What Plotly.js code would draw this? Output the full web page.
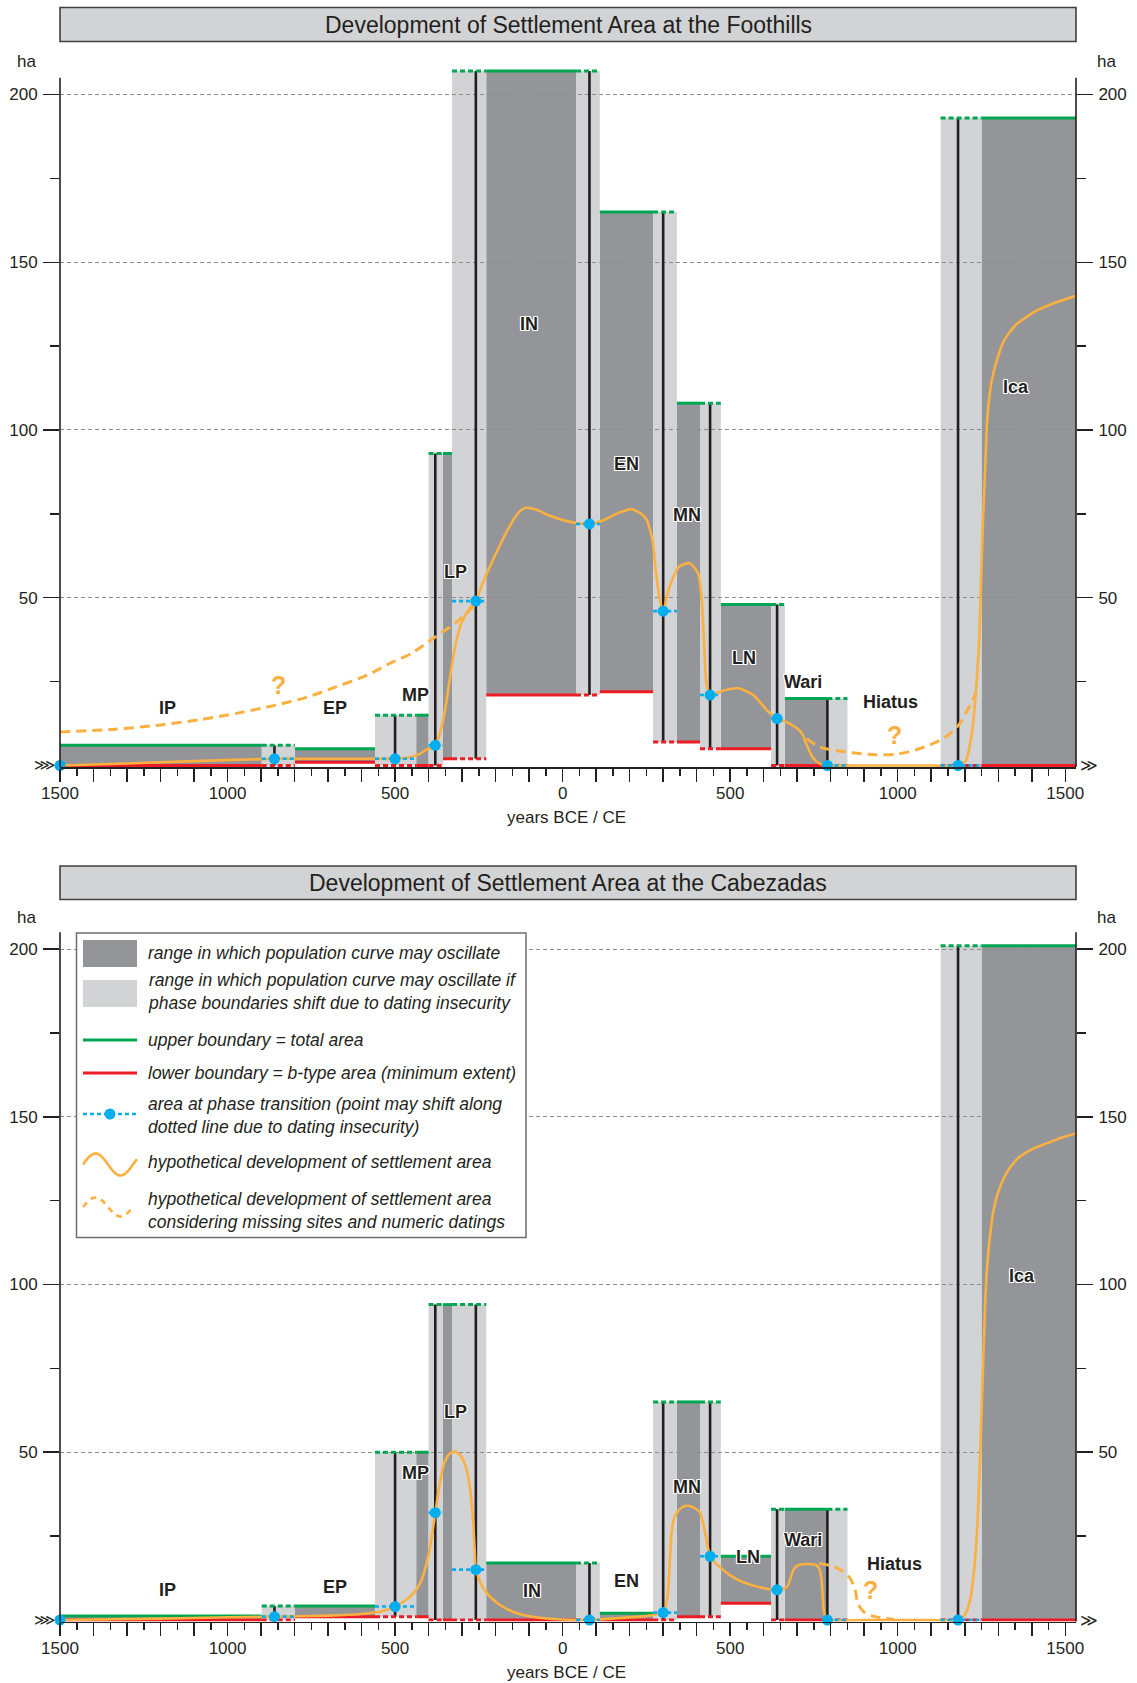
<!DOCTYPE html>
<html><head><meta charset="utf-8">
<script src="https://cdn.plot.ly/plotly-3.0.1.min.js"></script>
<style>html,body{margin:0;padding:0;background:#fff}#chart{width:1137px;height:1683px}</style>
</head><body><div id="chart"></div>
<script>
// ---------- shared chronology (years; BCE negative, CE positive) ----------
const phaseNames = ['IP','EP','MP','LP','IN','EN','MN','LN','Wari','Hiatus','Ica'];
const phaseStart = [-1500, -799, -437, -357, -228, 111, 341, 472, 663, 850, 1250];
const phaseEnd   = [-898, -560, -400, -330, 40, 270, 410, 622, 790, 1128, 1532];
const transLine  = [-860, -500, -380, -259, 80, 300, 440, 640, 790, 1180];

// ---------- Foothills (ha) ----------
const footUpper = [6, 5, 15, 93, 207, 165, 108, 48, 20, null, 193];
const footLower = [0, 1, 0, 2, 21, 22, 7, 5, 0, null, 0];
const footTrans = [2, 2, 6, 49, 72, 46, 21, 14, 0, 0];
const footStart = 0;
const footCurveX = [-1500,-1300,-1100,-900,-860,-700,-560,-500,-460,-430,-405,-380,-365,-350,-335,-320,-300,-280,-259,-240,-200,-160,-130,-110,-80,-40,0,40,80,120,160,205,235,251,268,279,290,300,319,348,379,404,415,423,429,440,478,523,569,614,640,671,700,715,728,748,770,790,900,1000,1100,1180,1204,1221,1233,1244,1253,1261,1267,1279,1296,1318,1352,1409,1466,1532];
const footCurveY = [0,0.6,1.3,1.9,2,2,2,2,2.4,3.3,4.8,6,10,17,27,36,43,46.5,49,54,63,71,75.5,76.8,76.3,74.5,73.2,72.3,72,73,75,76.4,75,73.2,67.2,57.3,49.3,46,53.3,59.3,60.3,57.3,49.3,34.4,24.6,21,22.3,23,21,16,14,12.8,11,9.5,6.2,2.2,0.4,0,0,0,0,0,1.6,9.6,21.5,39.4,69.2,89,103,113.9,120.9,126.8,131.3,135.3,137.8,140];
const footDashX = [-1500,-1336,-1199,-1085,-970,-856,-765,-674,-582,-514,-450,-386,-320,-265, null, 728,768,841,932,1000,1068,1137,1182,1233];
const footDashY = [10,10.8,12.1,13.6,15.6,18,20.3,23.5,27,30.5,33.5,37.9,42.5,47.5, null, 8,5.5,4.1,3.2,3.4,5.1,8.1,12.1,21.5];
const footLabelX = [-1180,-680,-440,-320,-101,190,370,540,718,979,1353];
const footLabelY = [17,17,21,57.8,131.5,89.9,74.7,32,25,19,112.7];
const footQX = [-849, 991];
const footQY = [24, 9.1];

// ---------- Cabezadas (ha) ----------
const cabUpper = [1.2, 4.2, 50, 94, 17, 2, 65, 19, 33, null, 201];
const cabLower = [0, 1, 1, 0, 0, 0, 1, 5, 0, null, 0];
const cabTrans = [1, 4, 32, 15, 0, 2.2, 19, 9, 0, 0];
const cabStart = 0;
const cabCurveX = [-1500,-1200,-1000,-860,-700,-600,-540,-500,-470,-445,-425,-411,-395,-380,-366,-354,-337,-320,-302,-287,-276,-268,-263,-259,-250,-240,-220,-194,-165,-137,-100,-57,0,80,160,230,270,300,308,314,319,325,333,341,360,379,395,410,420,428,440,458,478,505,535,591,640,660,672,681,690,705,728,755,766,772,776,779,785,790,900,1000,1100,1180,1200,1216,1230,1239,1248,1256,1262,1268,1276,1284,1298,1318,1340,1363,1400,1443,1490,1532];
const cabCurveY = [0,0.4,0.8,1,1.3,1.8,2.6,4,5.8,8,11,15,22,32,41,46.7,49.6,50.2,48.6,45,39,30.8,22,15,12.3,10,7.3,5,3.2,2,1.1,0.5,0.15,0,0.5,1,1.5,2.2,4,8,16,26,30.5,32,33.8,34,33.3,32,28.5,24.5,19,16.8,15,13,11.4,9.7,9,9.3,10.2,12.8,15.2,16.4,16.7,16.4,15.3,12.5,7.5,3,0.6,0,0,0,0,0,1.5,6,17,31,55,80,97,107,115,121,127,132,135.5,138,140.3,142,143.8,145];
const cabDashX = [765,800,830,858,873,881,898,932,989];
const cabDashY = [16.8,16.2,14.9,12.4,8.9,5,2.5,1,0.2];
const cabLabelX = [-1180,-680,-440,-320,-92,190,370,552,718,989,1370];
const cabLabelY = [8.9,9.9,43.9,61.9,8.7,11.6,39.7,18.9,23.8,16.7,102.5];
const cabQX = [920];
const cabQY = [8.9];

// ---------- axis ticks ----------
const yTickVals = [50, 100, 150, 200];
const yMinorVals = [25, 75, 125, 175];

// ---------- styling ----------
const FONT = 'Liberation Sans, Arial, Helvetica, sans-serif';
const INK = '#231f20';
const DARK = '#939598', LIGHT = '#d1d3d4';
const GREEN = '#00a651', RED = '#ed1c24', BLUE = '#00aeef', ORANGE = '#fbb040';
const W = 1137, H = 1683, ML = 60, MR = 61;
const YR = [-0.45, 212];
const px = p => (p - ML) / (W - ML - MR);
const py = p => (H - p) / H;

const xTickVals = [], xTickText = [], xMinor = [];
for (let v = -1500; v <= 1500; v += 100) { xTickVals.push(v); xTickText.push(v % 500 === 0 ? String(Math.abs(v)) : ''); }
for (let v = -1450; v <= 1500; v += 100) xMinor.push(v);

const shapes = [], annotations = [], traces = [];

function panel(upper, lower, trans, startVal, curveX, curveY, dashX, dashY, labX, labY, qX, qY, xa, ya) {
  const n = phaseNames.length;
  const gx=[],gy=[],gdx=[],gdy=[],rx=[],ry=[],rdx=[],rdy=[],bx=[],by=[],blx=[],bly=[];
  const v0 = v => v == null ? 0 : v;
  for (let i = 0; i < n; i++) {
    if (upper[i] == null) continue;
    shapes.push({type:'rect', xref:xa, yref:ya, x0:phaseStart[i], x1:phaseEnd[i], y0:lower[i], y1:upper[i], fillcolor:DARK, line:{width:0}, layer:'below'});
    gx.push(phaseStart[i], phaseEnd[i], null); gy.push(upper[i], upper[i], null);
    rx.push(phaseStart[i], phaseEnd[i], null); ry.push(lower[i], lower[i], null);
  }
  for (let i = 0; i < n - 1; i++) {
    const a = phaseEnd[i], b = phaseStart[i + 1];
    const top = Math.max(v0(upper[i]), v0(upper[i + 1]));
    const lows = [lower[i], lower[i + 1]].filter(v => v != null);
    const bot = Math.min.apply(null, lows);
    shapes.push({type:'rect', xref:xa, yref:ya, x0:a, x1:b, y0:bot, y1:top, fillcolor:LIGHT, line:{width:0}, layer:'below'});
    gdx.push(a, b, null); gdy.push(top, top, null);
    rdx.push(a, b, null); rdy.push(bot, bot, null);
    bx.push(transLine[i], transLine[i], null); by.push(bot, top, null);
    blx.push(a, b, null); bly.push(trans[i], trans[i], null);
  }
  const base = {type:'scatter', mode:'lines', xaxis:xa, yaxis:ya, hoverinfo:'skip', showlegend:false};
  traces.push(Object.assign({}, base, {x:bx, y:by, line:{color:INK, width:2.6}}));
  traces.push(Object.assign({}, base, {x:gx, y:gy, line:{color:GREEN, width:3}}));
  traces.push(Object.assign({}, base, {x:gdx, y:gdy, line:{color:GREEN, width:3, dash:'5px,3px'}}));
  traces.push(Object.assign({}, base, {x:rx, y:ry, line:{color:RED, width:3}}));
  traces.push(Object.assign({}, base, {x:rdx, y:rdy, line:{color:RED, width:3, dash:'5px,3px'}}));
  traces.push(Object.assign({}, base, {x:dashX, y:dashY, line:{color:ORANGE, width:3, dash:'10px,6px', shape:'spline', smoothing:0.8}}));
  traces.push(Object.assign({}, base, {x:curveX, y:curveY, line:{color:ORANGE, width:2.6, shape:'spline', smoothing:0.6}}));
  traces.push(Object.assign({}, base, {x:blx, y:bly, line:{color:BLUE, width:2.6, dash:'4px,3px'}}));
  traces.push(Object.assign({}, base, {mode:'markers', cliponaxis:false, x:[phaseStart[0]].concat(transLine), y:[startVal].concat(trans), marker:{color:BLUE, size:11}}));

  const halo = '1px 0 0 #fff, -1px 0 0 #fff, 0 1px 0 #fff, 0 -1px 0 #fff, 1px 1px 0 #fff, -1px -1px 0 #fff, 1px -1px 0 #fff, -1px 1px 0 #fff';
  for (let i = 0; i < phaseNames.length; i++) {
    annotations.push({xref:xa, yref:ya, x:labX[i], y:labY[i], text:phaseNames[i], showarrow:false, xanchor:'center', yanchor:'middle',
      font:{family:FONT, size:18, color:INK, weight:'bold', shadow:halo}});
  }
  for (let i = 0; i < qX.length; i++) {
    annotations.push({xref:xa, yref:ya, x:qX[i], y:qY[i], text:'?', showarrow:false, font:{family:FONT, size:25, color:ORANGE, weight:'bold'}});
  }
  annotations.push({xref:xa, yref:ya, x:-1500, y:0, text:'⋙', showarrow:false, xanchor:'right', yanchor:'middle', xshift:-3, font:{family:'DejaVu Sans', size:15, color:INK}});
  annotations.push({xref:xa, yref:ya, x:1532, y:0, text:'≫', showarrow:false, xanchor:'left', yanchor:'middle', xshift:2, font:{family:'DejaVu Sans', size:17, color:INK}});
  const yTop = (205 - YR[0]) / (YR[1] - YR[0]);
  const ydom = ya + ' domain', xdom = xa + ' domain';
  shapes.push({type:'line', xref:xdom, yref:ydom, x0:0, x1:0, y0:0, y1:yTop, line:{color:INK, width:1.6}});
  shapes.push({type:'line', xref:xdom, yref:ydom, x0:1, x1:1, y0:0, y1:yTop, line:{color:INK, width:1.6}});
}

panel(footUpper, footLower, footTrans, footStart, footCurveX, footCurveY, footDashX, footDashY, footLabelX, footLabelY, footQX, footQY, 'x', 'y');
panel(cabUpper, cabLower, cabTrans, cabStart, cabCurveX, cabCurveY, cabDashX, cabDashY, cabLabelX, cabLabelY, cabQX, cabQY, 'x2', 'y2');
traces.push({type:'scatter', x:[null], y:[null], xaxis:'x', yaxis:'y3', showlegend:false, hoverinfo:'skip'});
traces.push({type:'scatter', x:[null], y:[null], xaxis:'x2', yaxis:'y4', showlegend:false, hoverinfo:'skip'});

function titleBox(top, bottom, text) {
  shapes.push({type:'rect', xref:'paper', yref:'paper', x0:0, x1:1, y0:py(bottom), y1:py(top), fillcolor:LIGHT, line:{color:'#414042', width:1.6}, layer:'above'});
  annotations.push({xref:'paper', yref:'paper', x:0.5, y:py((top + bottom) / 2), text:text, showarrow:false, xanchor:'center', yanchor:'middle', font:{family:FONT, size:23, color:INK}});
}
titleBox(7.5, 41.5, 'Development of Settlement Area at the Foothills');
titleBox(866, 899.5, 'Development of Settlement Area at the Cabezadas');

[62, 917].forEach(yy => {
  annotations.push({xref:'paper', yref:'paper', x:px(26), y:py(yy), text:'ha', showarrow:false, xanchor:'center', yanchor:'middle', font:{family:FONT, size:17, color:INK}});
  annotations.push({xref:'paper', yref:'paper', x:px(1106), y:py(yy), text:'ha', showarrow:false, xanchor:'center', yanchor:'middle', font:{family:FONT, size:17, color:INK}});
});
[817, 1672].forEach(yy => {
  annotations.push({xref:'paper', yref:'paper', x:px(566), y:py(yy), text:'years BCE / CE', showarrow:false, xanchor:'center', yanchor:'middle', font:{family:FONT, size:17, color:INK}});
});

// legend (bottom panel)
shapes.push({type:'rect', xref:'paper', yref:'paper', x0:px(76.5), x1:px(526), y0:py(1237.5), y1:py(933), fillcolor:'#ffffff', line:{color:'#6d6e71', width:1.5}, layer:'above'});
shapes.push({type:'rect', xref:'paper', yref:'paper', x0:px(83), x1:px(137), y0:py(967), y1:py(940), fillcolor:DARK, line:{width:0}, layer:'above'});
shapes.push({type:'rect', xref:'paper', yref:'paper', x0:px(83), x1:px(137), y0:py(1007), y1:py(980), fillcolor:LIGHT, line:{width:0}, layer:'above'});
shapes.push({type:'line', xref:'paper', yref:'paper', x0:px(83), x1:px(137), y0:py(1040), y1:py(1040), line:{color:GREEN, width:3}, layer:'above'});
shapes.push({type:'line', xref:'paper', yref:'paper', x0:px(83), x1:px(137), y0:py(1073), y1:py(1073), line:{color:RED, width:3}, layer:'above'});
shapes.push({type:'line', xref:'paper', yref:'paper', x0:px(83), x1:px(137), y0:py(1114), y1:py(1114), line:{color:BLUE, width:2.6, dash:'4px,3px'}, layer:'above'});
shapes.push({type:'circle', xref:'paper', yref:'paper', x0:px(104.5), x1:px(115.5), y0:py(1119.5), y1:py(1108.5), fillcolor:BLUE, line:{width:0}, layer:'above'});
function wave(x0, x1, yc, amp) {
  const pts = [];
  for (let k = 0; k <= 40; k++) { const xx = x0 + (x1 - x0) * k / 40; pts.push(px(xx) + ',' + py(yc - amp * Math.sin(2 * Math.PI * (xx - x0) / 50))); }
  return 'M' + pts.join(' L');
}
shapes.push({type:'path', xref:'paper', yref:'paper', path:wave(83, 137, 1164.5, 11), line:{color:ORANGE, width:2.6}, layer:'above'});
shapes.push({type:'path', xref:'paper', yref:'paper', path:wave(83, 132, 1207, 9.5), line:{color:ORANGE, width:2.6, dash:'6px,5px'}, layer:'above'});
const legendText = [
  [953, 'range in which population curve may oscillate'],
  [991.5, 'range in which population curve may oscillate if<br>phase boundaries shift due to dating insecurity'],
  [1040, 'upper boundary = total area'],
  [1073, 'lower boundary = b-type area (minimum extent)'],
  [1115.5, 'area at phase transition (point may shift along<br>dotted line due to dating insecurity)'],
  [1162, 'hypothetical development of settlement area'],
  [1210, 'hypothetical development of settlement area<br>considering missing sites and numeric datings']
];
legendText.forEach(([yy, t]) => annotations.push({xref:'paper', yref:'paper', x:px(146), y:py(yy), text:t, showarrow:false, xanchor:'left', yanchor:'middle', align:'left', font:{family:FONT, size:17.5, color:INK, style:'italic'}}));

function xAxis(anchor) {
  return {domain:[0, 1], range:[-1500, 1532], anchor:anchor, tickmode:'array', tickvals:xTickVals, ticktext:xTickText,
    ticks:'outside', ticklen:13, tickwidth:1.5, tickcolor:INK, showline:true, linecolor:INK, linewidth:1.6,
    showgrid:false, zeroline:false, tickfont:{family:FONT, size:17, color:INK}, ticklabelstandoff:-3,
    minor:{tickmode:'array', tickvals:xMinor, ticks:'outside', ticklen:7, tickwidth:1.5, tickcolor:INK, showgrid:false}};
}
function yAxis(anchor, domain, extra) {
  return Object.assign({domain:domain, range:YR, anchor:anchor, tickmode:'array', tickvals:yTickVals, ticktext:yTickVals.map(String),
    ticks:'outside', ticklen:16, tickwidth:1.5, tickcolor:INK, showline:false, zeroline:false,
    showgrid:true, gridcolor:'#8a8c8e', gridwidth:1, griddash:'4px,3px',
    tickfont:{family:FONT, size:17, color:INK}, ticklabelstandoff:2,
    minor:{tickmode:'array', tickvals:yMinorVals, ticks:'outside', ticklen:9, tickwidth:1.5, tickcolor:INK, showgrid:false}}, extra || {});
}
const domTop = [py(767.0), py(54.24)];
const domBot = [py(1621.5), py(908.74)];

const layout = {
  width:W, height:H, margin:{l:ML, r:MR, t:0, b:0}, paper_bgcolor:'#fff', plot_bgcolor:'rgba(0,0,0,0)',
  font:{family:FONT, color:INK}, showlegend:false,
  xaxis: xAxis('y'), xaxis2: xAxis('y2'),
  yaxis: yAxis('x', domTop), yaxis2: yAxis('x2', domBot),
  yaxis3: yAxis('x', domTop, {overlaying:'y', side:'right', showgrid:false}),
  yaxis4: yAxis('x2', domBot, {overlaying:'y2', side:'right', showgrid:false}),
  shapes: shapes, annotations: annotations
};
Plotly.newPlot('chart', traces, layout, {staticPlot:true});
</script></body></html>
